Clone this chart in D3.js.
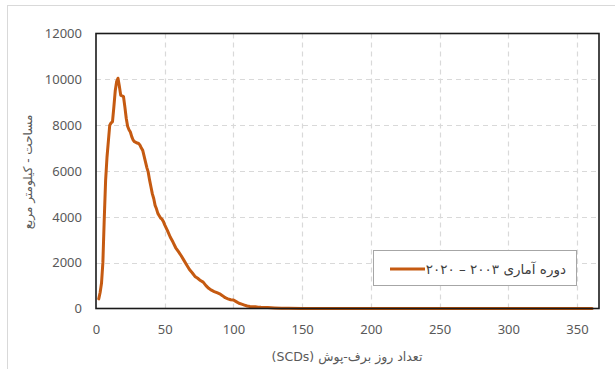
<!DOCTYPE html>
<html>
<head>
<meta charset="utf-8">
<script src="https://cdn.jsdelivr.net/npm/d3@7"></script>
<style>
  html, body { margin: 0; padding: 0; background: #fff; }
  svg { display: block; }
  .tick text { font-family: "Noto Sans", "Open Sans", sans-serif; font-size: 13px; fill: #595959; }
</style>
</head>
<body>
<svg id="chart" width="615" height="369"></svg>
<script>
// Snow-covered days (SCDs) vs. area (km²), period 2003–2020
const days = [2, 3, 4, 5, 6, 7, 8, 9, 10, 11, 12, 13, 14, 15, 16, 17, 18, 19, 20,
  21, 22, 23, 24, 25, 26, 27, 28, 29, 30, 31, 32, 33, 34, 35, 36, 37, 38, 39, 40,
  41, 42, 43, 44, 45, 46, 47, 48, 49, 50, 52, 54, 56, 58, 60, 62, 64, 66, 68, 70,
  72, 74, 76, 78, 80, 82, 84, 86, 88, 90, 92, 94, 96, 98, 100, 102, 104, 106, 108,
  110, 112, 114, 116, 118, 120, 125, 130, 135, 140, 150, 170, 200, 250, 300, 361];
const areaKm2 = [420, 700, 1100, 2000, 3900, 5600, 6600, 7300, 8000, 8100, 8150, 8800,
  9500, 9900, 10050, 9700, 9300, 9280, 9250, 8800, 8300, 7950, 7800, 7700, 7500, 7350,
  7280, 7250, 7220, 7200, 7130, 7000, 6900, 6650, 6400, 6150, 5950, 5600, 5300, 5000,
  4800, 4500, 4350, 4150, 4050, 3950, 3900, 3800, 3650, 3400, 3120, 2900, 2650, 2480,
  2300, 2100, 1900, 1700, 1560, 1400, 1320, 1220, 1150, 1000, 880, 800, 740, 690, 640,
  560, 470, 420, 380, 370, 300, 230, 190, 150, 110, 85, 80, 75, 60, 50, 40, 25, 15, 8,
  4, 2, 1, 0, 0, 0];
const xTicks = [0, 50, 100, 150, 200, 250, 300, 350];
const yTicks = [0, 2000, 4000, 6000, 8000, 10000, 12000];
const seriesName = "دوره آماری ۲۰۰۳ – ۲۰۲۰";
const xTitle = "تعداد روز برف-پوش (SCDs)";
const yTitle = "مساحت - کیلومتر مربع";

const svg = d3.select("#chart");
const plot = { left: 96, right: 599, top: 33.5, bottom: 308.5 };
const lineColor = "#c55a11";

// outer chart frame
svg.append("rect")
  .attr("x", 7.5).attr("y", 5.5).attr("width", 640).attr("height", 400)
  .attr("fill", "none").attr("stroke", "#d9d9d9").attr("stroke-width", 1);

const x = d3.scaleLinear().domain([0, 366]).range([plot.left, plot.right]);
const y = d3.scaleLinear().domain([0, 12000]).range([plot.bottom, plot.top]);

// dashed gridlines
const grid = svg.append("g").attr("stroke", "#d9d9d9").attr("stroke-width", 1.2)
  .attr("stroke-dasharray", "5,4");
grid.selectAll("line.h").data(yTicks.filter(v => v > 0 && v < 12000)).join("line")
  .attr("x1", plot.left).attr("x2", plot.right)
  .attr("y1", d => Math.round(y(d)) + 0.5).attr("y2", d => Math.round(y(d)) + 0.5);
grid.selectAll("line.v").data(xTicks.filter(v => v > 0)).join("line")
  .attr("y1", plot.top).attr("y2", plot.bottom)
  .attr("x1", d => Math.round(x(d)) + 0.5).attr("x2", d => Math.round(x(d)) + 0.5);

// axes (labels only)
const yAxis = svg.append("g").attr("transform", `translate(${plot.left},0)`)
  .call(d3.axisLeft(y).tickValues(yTicks).tickSize(0).tickPadding(14).tickFormat(d3.format("d")));
yAxis.select(".domain").remove();
const xAxis = svg.append("g").attr("transform", `translate(0,${plot.bottom})`)
  .call(d3.axisBottom(x).tickValues(xTicks).tickSize(0).tickPadding(16.5).tickFormat(d3.format("d")));
xAxis.select(".domain").remove();

// series line
const pts = days.map((d, i) => [d, areaKm2[i]]);
svg.append("path").datum(pts)
  .attr("fill", "none").attr("stroke", lineColor).attr("stroke-width", 3)
  .attr("stroke-linejoin", "round").attr("stroke-linecap", "round")
  .attr("d", d3.line().x(d => x(d[0])).y(d => y(d[1])));

// plot frame
svg.append("rect")
  .attr("x", plot.left).attr("y", plot.top)
  .attr("width", plot.right - plot.left).attr("height", plot.bottom - plot.top)
  .attr("fill", "none").attr("stroke", "#1a1a1a").attr("stroke-width", 1.6);

// legend
const lg = svg.append("g");
lg.append("rect").attr("x", 373.5).attr("y", 250.5).attr("width", 203).attr("height", 35)
  .attr("fill", "#fff").attr("stroke", "#a6a6a6").attr("stroke-width", 1);
lg.append("line").attr("x1", 390).attr("x2", 425).attr("y1", 269).attr("y2", 269)
  .attr("stroke", lineColor).attr("stroke-width", 3);
lg.append("text").attr("x", 566).attr("y", 273.5)
  .attr("direction", "rtl").attr("text-anchor", "start")
  .attr("font-family", "'DejaVu Sans', 'Noto Sans', sans-serif").attr("font-size", 13.5)
  .attr("fill", "#404040").text(seriesName);

// axis titles
svg.append("text").attr("x", 347).attr("y", 361)
  .attr("text-anchor", "middle").attr("direction", "rtl")
  .attr("font-family", "'DejaVu Sans', 'Noto Sans', sans-serif").attr("font-size", 12.5)
  .attr("fill", "#595959").text(xTitle);
svg.append("text")
  .attr("transform", "translate(32,172) rotate(-90)")
  .attr("text-anchor", "middle").attr("direction", "rtl")
  .attr("font-family", "'DejaVu Sans', 'Noto Sans', sans-serif").attr("font-size", 12)
  .attr("fill", "#595959").text(yTitle);
</script>
</body>
</html>
